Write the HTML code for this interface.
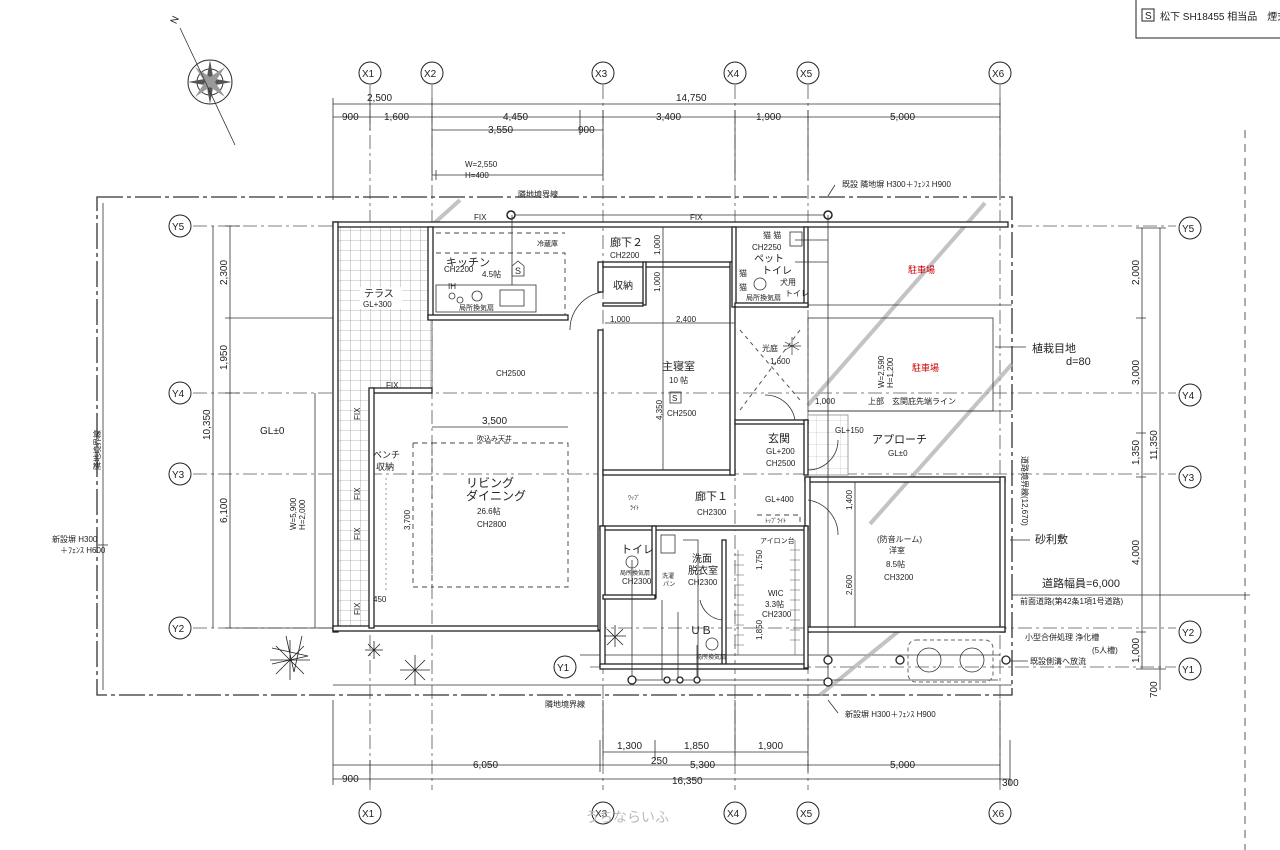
<!DOCTYPE html>
<html><head><meta charset="utf-8"><style>
html,body{margin:0;padding:0;background:#fff}
svg{display:block}
text{font-family:"Liberation Sans","Noto Sans CJK JP",sans-serif;fill:#222}
.d{font-size:10px}
.s{font-size:8px}
.w{fill:#fff;stroke:#222;stroke-width:1.3}
.l{stroke:#333;stroke-width:0.8;fill:none}
.g{stroke:#999;stroke-width:0.7;fill:none}
.dash{stroke:#555;stroke-width:0.8;fill:none;stroke-dasharray:14 4 3 4}
.dd{stroke:#444;stroke-width:0.9;fill:none;stroke-dasharray:5 4}
</style></head><body>
<svg width="1280" height="850" viewBox="0 0 1280 850" xmlns="http://www.w3.org/2000/svg">
<defs>
<pattern id="tile" width="10" height="10" patternUnits="userSpaceOnUse"><rect width="10" height="10" fill="#fff"/><path d="M0 0H10M0 0V10" stroke="#777" stroke-width="0.6"/></pattern>
<pattern id="tile2" width="12" height="12" patternUnits="userSpaceOnUse"><rect width="12" height="12" fill="#fff"/><path d="M0 0H12M0 0V12" stroke="#aaa" stroke-width="0.5"/></pattern>
</defs>

<!-- legend box -->
<rect x="1136" y="-2" width="150" height="40" fill="#fff" stroke="#222" stroke-width="1"/>
<rect x="1142" y="9" width="12" height="12" fill="none" stroke="#222"/><text x="1145" y="19" class="d">S</text>
<text x="1160" y="20" class="d">松下 SH18455 相当品　煙式</text>

<!-- north arrow -->
<g transform="translate(210,82)">
<circle r="22" fill="none" stroke="#333"/>
<circle r="13" fill="none" stroke="#333"/>
<path d="M0,-22 L4,0 L0,22 L-4,0Z M-22,0 L0,4 L22,0 L0,-4Z" fill="#555"/>
<path d="M-15,-15 L3,-3 L15,15 L-3,3Z M15,-15 L3,3 L-15,15 L-3,-3Z" fill="#999"/>
</g>
<path d="M180,28 L235,145" class="l"/>
<text x="172" y="22" class="d" transform="rotate(-65 176 20)">N</text>

<!-- grid lines (light dashed) -->
<g class="dash">
<path d="M370,85V790M432,85V790M603,85V790M735,85V790M808,85V790M1000,85V790"/>
<path d="M193,226H1176M193,393H1176M193,474H1176M193,628H1176M590,667H1176"/>
</g>

<!-- top grid markers -->
<g font-size="10">
<g><circle cx="370" cy="73" r="11" fill="#fff" stroke="#222"/><text x="362" y="77" class="d">X1</text></g>
<g><circle cx="432" cy="73" r="11" fill="#fff" stroke="#222"/><text x="424" y="77" class="d">X2</text></g>
<g><circle cx="603" cy="73" r="11" fill="#fff" stroke="#222"/><text x="595" y="77" class="d">X3</text></g>
<g><circle cx="735" cy="73" r="11" fill="#fff" stroke="#222"/><text x="727" y="77" class="d">X4</text></g>
<g><circle cx="808" cy="73" r="11" fill="#fff" stroke="#222"/><text x="800" y="77" class="d">X5</text></g>
<g><circle cx="1000" cy="73" r="11" fill="#fff" stroke="#222"/><text x="992" y="77" class="d">X6</text></g>
<g><circle cx="370" cy="813" r="11" fill="#fff" stroke="#222"/><text x="362" y="817" class="d">X1</text></g>
<g><circle cx="603" cy="813" r="11" fill="#fff" stroke="#222"/><text x="595" y="817" class="d">X3</text></g>
<g><circle cx="735" cy="813" r="11" fill="#fff" stroke="#222"/><text x="727" y="817" class="d">X4</text></g>
<g><circle cx="808" cy="813" r="11" fill="#fff" stroke="#222"/><text x="800" y="817" class="d">X5</text></g>
<g><circle cx="1000" cy="813" r="11" fill="#fff" stroke="#222"/><text x="992" y="817" class="d">X6</text></g>
<g><circle cx="180" cy="226" r="11" fill="#fff" stroke="#222"/><text x="172" y="230" class="d">Y5</text></g>
<g><circle cx="180" cy="393" r="11" fill="#fff" stroke="#222"/><text x="172" y="397" class="d">Y4</text></g>
<g><circle cx="180" cy="474" r="11" fill="#fff" stroke="#222"/><text x="172" y="478" class="d">Y3</text></g>
<g><circle cx="180" cy="628" r="11" fill="#fff" stroke="#222"/><text x="172" y="632" class="d">Y2</text></g>
<g><circle cx="1190" cy="228" r="11" fill="#fff" stroke="#222"/><text x="1182" y="232" class="d">Y5</text></g>
<g><circle cx="1190" cy="395" r="11" fill="#fff" stroke="#222"/><text x="1182" y="399" class="d">Y4</text></g>
<g><circle cx="1190" cy="477" r="11" fill="#fff" stroke="#222"/><text x="1182" y="481" class="d">Y3</text></g>
<g><circle cx="1190" cy="632" r="11" fill="#fff" stroke="#222"/><text x="1182" y="636" class="d">Y2</text></g>
<g><circle cx="1190" cy="669" r="11" fill="#fff" stroke="#222"/><text x="1182" y="673" class="d">Y1</text></g>
<g><circle cx="565" cy="667" r="11" fill="#fff" stroke="#222"/><text x="557" y="671" class="d">Y1</text></g>
</g>

<!-- top dimensions -->
<g class="l">
<path d="M333,104H1000M333,117H1000M432,130H603"/>
<path d="M333,98V200M370,98V130M432,98V180M603,110V180M735,110V180M808,110V180M1000,98V200M580,110V135"/>
<path d="M432,175H603M436,170V180"/>
</g>
<text x="367" y="101" class="d">2,500</text><text x="676" y="101" class="d">14,750</text>
<text x="342" y="120" class="d">900</text><text x="384" y="120" class="d">1,600</text><text x="503" y="120" class="d">4,450</text>
<text x="656" y="120" class="d">3,400</text><text x="756" y="120" class="d">1,900</text><text x="890" y="120" class="d">5,000</text>
<text x="488" y="133" class="d">3,550</text><text x="578" y="133" class="d">900</text>
<text x="465" y="167" class="s">W=2,550</text><text x="465" y="178" class="s">H=400</text>
<text x="518" y="197" class="s">隣地境界線</text>
<text x="842" y="187" class="s">既設 隣地塀 H300＋ﾌｪﾝｽ H900</text>
<path d="M835,185L828,196" class="l"/>

<!-- bottom dimensions -->
<g class="l">
<path d="M603,752H808M333,765H1000M333,779H1010"/>
<path d="M603,700V760M655,740V760M735,700V760M808,700V772M333,700V785M370,760V785M600,740V772M1000,700V785M1010,740V785"/>
</g>
<text x="617" y="749" class="d">1,300</text><text x="684" y="749" class="d">1,850</text><text x="758" y="749" class="d">1,900</text>
<text x="473" y="768" class="d">6,050</text><text x="651" y="764" class="d">250</text><text x="690" y="768" class="d">5,300</text><text x="890" y="768" class="d">5,000</text>
<text x="342" y="782" class="d">900</text><text x="672" y="784" class="d">16,350</text><text x="1002" y="786" class="d">300</text>
<text x="585" y="822" font-size="14" fill="#ccc" style="fill:#bbb">うちならいふ</text>

<!-- left dimensions -->
<g class="l">
<path d="M230,226V628M213,226V628M225,226H240M225,318H333M225,393H240M225,628H333M315,393V628"/>
</g>
<text x="227" y="285" class="d" transform="rotate(-90 227 285)">2,300</text>
<text x="227" y="370" class="d" transform="rotate(-90 227 370)">1,950</text>
<text x="227" y="523" class="d" transform="rotate(-90 227 523)">6,100</text>
<text x="210" y="440" class="d" transform="rotate(-90 210 440)">10,350</text>
<text x="260" y="434" class="d">GL±0</text>
<text x="296" y="530" class="s" transform="rotate(-90 296 530)">W=5,900</text>
<text x="305" y="530" class="s" transform="rotate(-90 305 530)">H=2,000</text>
<text x="100" y="470" class="s" transform="rotate(-90 100 470)">隣地境界線</text>
<text x="52" y="542" class="s">新設塀 H300</text><text x="60" y="553" class="s">＋ﾌｪﾝｽ H600</text>
<path d="M98,545H108" class="l"/>

<!-- right dimensions -->
<g class="l">
<path d="M1142,228V669M1160,228V690M1136,228H1166M1136,318H1146M1136,433H1146M1136,477H1146M1136,632H1146M1136,669H1166M1012,595H1250"/>
<path d="M1245,130V850" stroke-dasharray="8 6"/>
</g>
<text x="1139" y="285" class="d" transform="rotate(-90 1139 285)">2,000</text>
<text x="1139" y="385" class="d" transform="rotate(-90 1139 385)">3,000</text>
<text x="1139" y="465" class="d" transform="rotate(-90 1139 465)">1,350</text>
<text x="1139" y="565" class="d" transform="rotate(-90 1139 565)">4,000</text>
<text x="1139" y="663" class="d" transform="rotate(-90 1139 663)">1,000</text>
<text x="1157" y="460" class="d" transform="rotate(-90 1157 460)">11,350</text>
<text x="1157" y="698" class="d" transform="rotate(-90 1157 698)">700</text>
<text x="1032" y="352" font-size="11">植栽目地</text><text x="1066" y="365" font-size="11">d=80</text>
<path d="M995,347H1026" class="l"/>
<text x="1035" y="543" font-size="11">砂利敷</text><path d="M1010,540H1030" class="l"/>
<text x="1042" y="587" font-size="11">道路幅員=6,000</text>
<text x="1020" y="604" class="s">前面道路(第42条1項1号道路)</text>
<text x="1025" y="640" class="s">小型合併処理 浄化槽</text><text x="1092" y="653" class="s">(5人槽)</text>
<text x="1030" y="664" class="s">既設側溝へ放流</text><path d="M1005,661H1028" class="l"/>
<text x="1022" y="456" class="s" transform="rotate(90 1022 456)">道路境界線(12,670)</text>

<!-- site boundary -->
<path d="M97,197H1012V695H97Z" fill="none" stroke="#333" stroke-width="1.3" stroke-dasharray="26 4 4 4"/>
<path d="M103,203V690" class="l"/>
<text x="545" y="707" class="s">隣地境界線</text>
<text x="845" y="717" class="s">新設塀 H300＋ﾌｪﾝｽ H900</text>
<path d="M838,713L828,700" class="l"/>
<path d="M333,685H1012M580,655H1000" class="l"/>

<!-- parking diagonals -->
<g stroke="#aaa" stroke-width="4" opacity="0.7">
<path d="M985,203L808,405M1012,364L870,524M900,630L820,695M460,200L410,245"/>
</g>
<rect x="808" y="318" width="185" height="93" fill="none" class="l"/>
<path d="M808,305H1012M808,411H1012" class="l"/>
<text x="908" y="273" font-size="9" fill="#c00" style="fill:#c00">駐車場</text>
<text x="912" y="371" font-size="9" fill="#c00" style="fill:#c00">駐車場</text>
<text x="884" y="388" class="s" transform="rotate(-90 884 388)">W=2,590</text>
<text x="893" y="388" class="s" transform="rotate(-90 893 388)">H=1,200</text>
<text x="815" y="404" class="s">1,000</text>
<text x="868" y="404" class="s">上部　玄関庇先端ライン</text>
<rect x="808" y="415" width="40" height="60" fill="url(#tile2)" stroke="#666" stroke-width="0.6"/>
<text x="835" y="433" class="s">GL+150</text>
<text x="872" y="443" font-size="11">アプローチ</text><text x="888" y="456" class="s">GL±0</text>

<!-- terrace -->
<path d="M338,227H432V390H372V628H338Z" fill="url(#tile)" stroke="#444" stroke-width="0.8"/>
<rect x="360" y="287" width="42" height="22" fill="#fff"/>
<text x="364" y="297" font-size="10">テラス</text><text x="363" y="307" class="s">GL+300</text>

<!-- main walls -->
<g class="w">
<rect x="333" y="222" width="675" height="5" />
<rect x="333" y="222" width="5" height="410"/>
<rect x="333" y="626" width="270" height="5"/>
<rect x="372" y="388" width="60" height="5"/>
<rect x="369" y="388" width="5" height="240"/>
<rect x="428" y="227" width="5" height="92"/>
<rect x="428" y="315" width="140" height="5"/>
<rect x="598" y="262" width="5" height="30"/>
<rect x="598" y="330" width="5" height="300"/>
<rect x="603" y="262" width="132" height="5"/>
<rect x="603" y="470" width="132" height="5"/>
<rect x="730" y="262" width="5" height="213"/>
<rect x="643" y="262" width="3" height="43"/>
<rect x="603" y="303" width="40" height="3"/>
<rect x="732" y="227" width="4" height="80"/>
<rect x="804" y="227" width="4" height="80"/>
<rect x="735" y="303" width="73" height="4"/>
<rect x="735" y="420" width="73" height="4"/>
<rect x="804" y="420" width="4" height="55"/>
<rect x="805" y="477" width="200" height="5"/>
<rect x="1000" y="477" width="5" height="155"/>
<rect x="805" y="477" width="5" height="155"/>
<rect x="805" y="627" width="200" height="5"/>
<rect x="600" y="526" width="208" height="4"/>
<rect x="600" y="526" width="5" height="140"/>
<rect x="652" y="526" width="4" height="72"/>
<rect x="603" y="595" width="52" height="4"/>
<rect x="722" y="540" width="4" height="128"/>
<rect x="600" y="664" width="208" height="5"/>
<rect x="804" y="526" width="4" height="142"/>
</g>
<!-- windows -->
<text x="474" y="220" class="s">FIX</text><text x="690" y="220" class="s">FIX</text>
<text x="386" y="388" class="s">FIX</text>
<text x="360" y="420" class="s" transform="rotate(-90 360 420)">FIX</text>
<text x="360" y="500" class="s" transform="rotate(-90 360 500)">FIX</text>
<text x="360" y="540" class="s" transform="rotate(-90 360 540)">FIX</text>
<text x="360" y="615" class="s" transform="rotate(-90 360 615)">FIX</text>
<path d="M510,215H828" class="l"/>
<circle cx="511" cy="215" r="4" fill="#fff" stroke="#222" stroke-width="1.5"/>
<circle cx="828" cy="215" r="4" fill="#fff" stroke="#222" stroke-width="1.5"/>
<path d="M512,215V300M828,215V680M828,240H795M828,262H795" class="l"/>

<!-- kitchen -->
<path d="M436,233H565M436,253H565V315" class="dd"/>
<rect x="436" y="285" width="100" height="27" fill="#fff" stroke="#333" stroke-width="0.8"/>
<circle cx="452" cy="296" r="3" class="l"/><circle cx="460" cy="300" r="3" class="l"/>
<circle cx="477" cy="296" r="5" class="l"/>
<rect x="500" y="290" width="24" height="16" class="l"/>
<text x="446" y="266" font-size="11">キッチン</text>
<text x="444" y="272" class="s">CH2200</text><text x="482" y="277" class="s">4.5帖</text>
<text x="448" y="289" class="s">IH</text><text x="459" y="310" font-size="7">局所換気扇</text>
<text x="537" y="246" font-size="7">冷蔵庫</text>
<text x="515" y="274" font-size="9">S</text><path d="M512,266L518,261L524,266V276H512Z" class="l"/>
<path d="M603,292A38,38 0 0 0 570,330" class="l"/>

<!-- living -->
<text x="496" y="376" class="s">CH2500</text>
<path d="M432,427H568" class="l"/><text x="482" y="424" class="d">3,500</text>
<text x="477" y="441" font-size="7">吹込み天井</text>
<path d="M432,443H568V587H432Z" class="dd"/>
<path d="M413,443H432M413,587H432M413,443V587" class="dd"/>
<text x="466" y="487" font-size="12">リビング</text>
<text x="466" y="500" font-size="12">ダイニング</text>
<text x="477" y="514" class="s">26.6帖</text><text x="477" y="527" class="s">CH2800</text>
<text x="410" y="530" class="s" transform="rotate(-90 410 530)">3,700</text>
<text x="373" y="458" font-size="9">ベンチ</text><text x="376" y="470" font-size="9">収納</text>
<path d="M386,478V590" stroke="#999" stroke-dasharray="2 3"/>
<text x="373" y="602" class="s">450</text>

<!-- 廊下2 / bedroom -->
<text x="610" y="246" font-size="11">廊下２</text><text x="610" y="258" class="s">CH2200</text>
<text x="660" y="255" class="s" transform="rotate(-90 660 255)">1,000</text>
<text x="660" y="292" class="s" transform="rotate(-90 660 292)">1,000</text>
<path d="M663,227V470" class="l"/>
<text x="613" y="289" font-size="10">収納</text>
<path d="M605,323H735" class="l"/>
<text x="610" y="322" class="s">1,000</text><text x="676" y="322" class="s">2,400</text>
<text x="662" y="370" font-size="11">主寝室</text><text x="669" y="383" class="s">10 帖</text>
<text x="662" y="420" class="s" transform="rotate(-90 662 420)">4,350</text>
<rect x="670" y="392" width="11" height="11" class="l"/><text x="672" y="401" font-size="8">S</text>
<text x="667" y="416" class="s">CH2500</text>

<!-- pet toilet -->
<text x="763" y="238" class="s">猫 猫</text><text x="752" y="250" class="s">CH2250</text>
<text x="754" y="262" font-size="10">ペット</text><text x="762" y="274" font-size="10">トイレ</text>
<text x="739" y="276" class="s">猫</text><text x="739" y="290" class="s">猫</text>
<text x="780" y="285" class="s">犬用</text><text x="785" y="296" class="s">トイレ</text>
<circle cx="760" cy="284" r="6" class="l"/>
<text x="746" y="300" font-size="7">局所換気扇</text>
<rect x="790" y="232" width="12" height="14" class="l"/>

<!-- light court -->
<text x="762" y="351" class="s">光庭</text><text x="770" y="364" class="s">1,600</text>
<path d="M740,330L800,400M800,330L740,410" stroke="#555" stroke-dasharray="4 4"/>
<path d="M765,395A30,30 0 0 1 795,420" class="l"/>
<g stroke="#333" stroke-width="0.7"><path d="M785,342l14,8m-14,0l14,-8m-7,-5v18m-9,-9h18"/></g>

<!-- entry -->
<text x="768" y="442" font-size="11">玄関</text><text x="766" y="454" class="s">GL+200</text><text x="766" y="466" class="s">CH2500</text>
<path d="M808,470A30,30 0 0 0 838,440" class="l"/>

<!-- corridor 1 -->
<text x="628" y="500" font-size="6">ﾜｯﾌﾟ</text><text x="630" y="510" font-size="6">ﾗｲﾄ</text>
<text x="695" y="500" font-size="11">廊下１</text><text x="697" y="515" class="s">CH2300</text>
<text x="765" y="502" class="s">GL+400</text>
<path d="M757,515H800V526" class="dd"/><text x="765" y="523" font-size="6">ﾄｯﾌﾟﾗｲﾄ</text>

<!-- soundproof room -->
<text x="877" y="542" class="s">(防音ルーム)</text><text x="889" y="553" class="s">洋室</text>
<text x="886" y="567" class="s">8.5帖</text><text x="884" y="580" class="s">CH3200</text>
<path d="M855,482V627" class="l"/>
<text x="852" y="510" class="s" transform="rotate(-90 852 510)">1,400</text>
<text x="852" y="595" class="s" transform="rotate(-90 852 595)">2,600</text>
<path d="M808,500A35,35 0 0 1 838,535" class="l"/>

<!-- wet area -->
<text x="621" y="553" font-size="11">トイレ</text>
<circle cx="632" cy="562" r="6" class="l"/>
<text x="620" y="575" font-size="6">局所換気扇</text><text x="622" y="584" class="s">CH2300</text>
<rect x="661" y="535" width="14" height="18" class="l"/>
<text x="692" y="562" font-size="10">洗面</text><text x="688" y="574" font-size="10">脱衣室</text><text x="688" y="585" class="s">CH2300</text>
<text x="662" y="578" font-size="6">洗濯</text><text x="663" y="586" font-size="6">パン</text>
<path d="M683,540H698V680" class="l"/>
<text x="690" y="634" font-size="11">ＵＢ</text>
<circle cx="712" cy="644" r="6" class="l"/><text x="696" y="659" font-size="6">局所換気扇</text>
<path d="M700,600A25,25 0 0 0 722,620" class="l"/>
<text x="760" y="543" font-size="7">アイロン台</text>
<text x="768" y="596" class="s">WIC</text><text x="765" y="607" class="s">3.3帖</text><text x="762" y="617" class="s">CH2300</text>
<text x="762" y="570" class="s" transform="rotate(-90 762 570)">1,750</text>
<text x="762" y="640" class="s" transform="rotate(-90 762 640)">1,850</text>
<g stroke="#555" stroke-width="0.6"><path d="M738,550V655M795,540V655"/>
<path d="M734,555h10M734,565h10M734,575h10M734,585h10M734,595h10M734,605h10M734,615h10M734,625h10M734,635h10M734,645h10M790,550h10M790,560h10M790,570h10M790,580h10M790,590h10M790,600h10M790,610h10M790,620h10M790,630h10M790,640h10"/></g>

<!-- bottom pipes -->
<path d="M632,680H998M632,560V680M662,600V680M678,612V680M697,645V680" class="l"/>
<g fill="#fff" stroke="#222" stroke-width="1.3">
<circle cx="632" cy="680" r="4"/><circle cx="667" cy="680" r="3"/><circle cx="680" cy="680" r="3"/><circle cx="697" cy="680" r="3"/>
<circle cx="828" cy="660" r="4"/><circle cx="828" cy="682" r="4"/><circle cx="900" cy="660" r="4"/><circle cx="1006" cy="660" r="4"/>
</g>
<rect x="908" y="640" width="85" height="42" rx="8" fill="none" stroke="#666" stroke-dasharray="4 3"/>
<circle cx="929" cy="660" r="12" class="l"/><circle cx="972" cy="660" r="12" class="l"/>

<!-- plants -->
<g stroke="#222" stroke-width="0.8">
<path d="M270,660l40,0m-20,-20v40m-14,-34l28,28m0,-28l-28,28m-4,-10l36,-8m-36,-8l36,8m-22,-20l8,36m8,-36l-8,36"/>
<path d="M365,650l18,0m-9,-9v18m-6,-15l12,12m0,-12l-12,12"/>
<path d="M400,670l30,0m-15,-15v30m-10,-25l20,20m0,-20l-20,20"/>
<path d="M604,636l22,0m-11,-11v22m-8,-18l16,16m0,-16l-16,16"/>
</g>
</svg>
</body></html>
